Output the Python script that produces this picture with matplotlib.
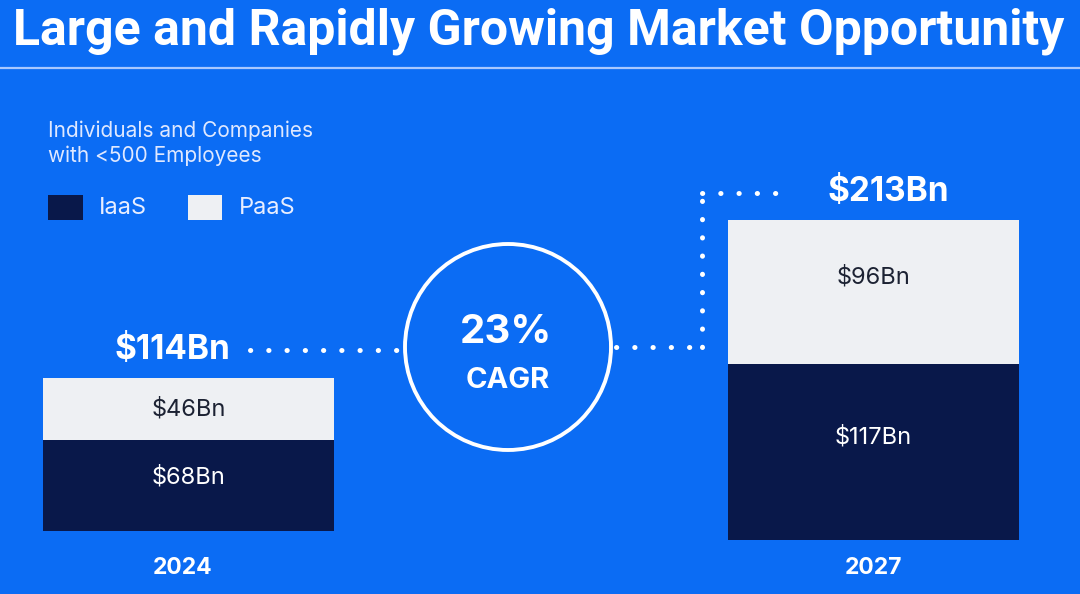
import matplotlib
matplotlib.use("Agg")
import matplotlib.pyplot as plt
from matplotlib.patches import Rectangle, Ellipse
from matplotlib.lines import Line2D

# ---- data ----
years = ["2024", "2027"]
iaas = [68, 117]
paas = [46, 96]
totals = ["$114Bn", "$213Bn"]
iaas_labels = ["$68Bn", "$117Bn"]
paas_labels = ["$46Bn", "$96Bn"]
series = ["IaaS", "PaaS"]
cagr = "23%"
title = "Large and Rapidly Growing Market Opportunity"
subtitle = "Individuals and Companies\nwith <500 Employees"

BG = "#0b6cf4"
NAVY = "#09184a"
LIGHT = "#eef0f3"
W, H = 1080, 594

plt.rcParams['font.family'] = ['Inter', 'DejaVu Sans']
fig = plt.figure(figsize=(W / 100, H / 100), dpi=100, facecolor=BG)

def fx(x):
    return x / W

def fy(y):
    return 1 - y / H

# title + rule
fig.text(fx(539), fy(31), title, color="white", fontsize=36, fontweight="bold",
         ha="center", va="center", family=['Roboto', 'DejaVu Sans'])
fig.add_artist(Line2D([0, 1], [fy(68), fy(68)], transform=fig.transFigure,
                      color="#a8c8ff", lw=1.6))

# legend / subtitle
fig.text(fx(48), fy(143), subtitle, color="#dfe8ff", fontsize=15,
         ha="left", va="center", linespacing=1.25)
fig.add_artist(Rectangle((fx(48), fy(220)), fx(35), 25 / H, transform=fig.transFigure,
                         facecolor=NAVY, edgecolor="none"))
fig.text(fx(99), fy(208), series[0], color="#e8eeff", fontsize=17, ha="left", va="center")
fig.add_artist(Rectangle((fx(188), fy(220)), fx(34), 25 / H, transform=fig.transFigure,
                         facecolor=LIGHT, edgecolor="none"))
fig.text(fx(239), fy(208), series[1], color="#e8eeff", fontsize=17, ha="left", va="center")

# bars: each year in its own axes
bar_boxes = [(43, 334, 531, 378), (728, 1019, 540, 220)]  # x0, x1, bottom, top (px)
for i, (x0, x1, yb, yt) in enumerate(bar_boxes):
    ax = fig.add_axes([fx(x0), fy(yb), (x1 - x0) / W, (yb - yt) / H])
    ax.set_facecolor("none")
    total = iaas[i] + paas[i]
    ax.bar([0], [iaas[i]], width=1, color=NAVY, align="edge")
    ax.bar([0], [paas[i]], width=1, bottom=[iaas[i]], color=LIGHT, align="edge")
    ax.set_xlim(0, 1)
    ax.set_ylim(0, total)
    ax.axis("off")
    ax.text(0.5, iaas[i] * 0.585, iaas_labels[i], color="white", fontsize=17,
            ha="center", va="center")
    ax.text(0.5, iaas[i] + paas[i] * (0.5 if i == 0 else 0.6), paas_labels[i],
            color="#1c2233", fontsize=17, ha="center", va="center")

fig.text(fx(183), fy(568), years[0], color="white", fontsize=16.5, fontweight="bold",
         ha="center", va="center")
fig.text(fx(873), fy(568), years[1], color="white", fontsize=16.5, fontweight="bold",
         ha="center", va="center")
fig.text(fx(172), fy(350), totals[0], color="white", fontsize=24, fontweight="bold",
         ha="center", va="center")
fig.text(fx(888), fy(192), totals[1], color="white", fontsize=24, fontweight="bold",
         ha="center", va="center")

# CAGR circle
fig.add_artist(Ellipse((fx(508), fy(347)), 206 / W, 206 / H, transform=fig.transFigure,
                       facecolor="none", edgecolor="white", lw=2.8))
fig.text(fx(506), fy(333), cagr, color="white", fontsize=29, fontweight="bold",
         ha="center", va="center")
fig.text(fx(508), fy(381), "CAGR", color="white", fontsize=21, fontweight="bold",
         ha="center", va="center")

# dotted connectors
dot = dict(color="white", lw=3.6, linestyle=(0, (0.05, 3.6)), dash_capstyle="round",
           solid_capstyle="round", transform=fig.transFigure)
fig.add_artist(Line2D([fx(250), fx(398)], [fy(350), fy(350)], **dot))
fig.add_artist(Line2D([fx(616), fx(702)], [fy(347), fy(347)], **dot))
fig.add_artist(Line2D([fx(702), fx(702)], [fy(347), fy(193)], **dot))
fig.add_artist(Line2D([fx(702), fx(782)], [fy(193), fy(193)], **dot))

fig.savefig("out.png", dpi=100, facecolor=BG)
